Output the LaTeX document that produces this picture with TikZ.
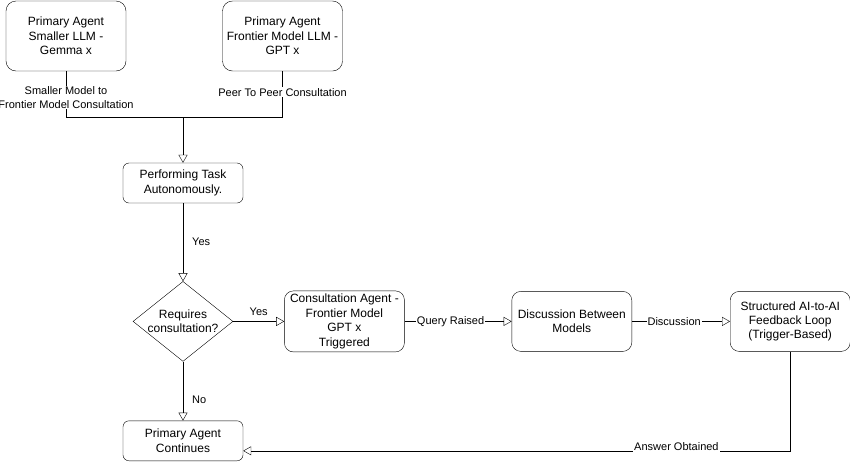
\documentclass[tikz,border=0pt]{standalone}
\usepackage{fontspec}
\setmainfont{Liberation Sans}
\usepackage{tikz}
\usetikzlibrary{shapes.geometric, positioning, arrows.meta}
\tikzset{
x=1pt, y=1pt, % one unit per pixel of the drawing
line width=1pt,
>={Triangle[open, length=8pt, width=9pt]}, % open arrow heads
agent/.style={draw, rounded corners=10pt, align=center, minimum width=120pt, minimum height=70pt, font=\fontsize{12}{14.4}\selectfont},
task/.style={draw, rounded corners=6pt, align=center, minimum width=120pt, minimum height=40pt, font=\fontsize{12}{14.4}\selectfont},
stage/.style={draw, rounded corners=9pt, align=center, minimum width=120pt, minimum height=60pt, font=\fontsize{12}{14.4}\selectfont},
decision/.style={draw, diamond, inner sep=0pt, minimum width=100pt, minimum height=80pt}, % text is set as a label
edgetext/.style={font=\fontsize{11}{13.2}\selectfont, align=center, inner sep=2pt},
}

\begin{document}
\begin{tikzpicture}
        \useasboundingbox (0,0) rectangle (850,-461);

        \node[agent] (small) at (66,-36) {Primary Agent\\Smaller LLM -\\Gemma x};
        \node[agent] (frontier) at (282.5,-36) {Primary Agent\\Frontier Model LLM -\\GPT x};
        \node[task] (work) at (183,-183) {Performing Task\\Autonomously.};
        \node[decision, below=78pt of work, label={[font=\fontsize{12}{14.4}\selectfont, align=center]center:Requires\\consultation?}] (decide) {};
        \node[stage, right=51pt of decide] (consult) {Consultation Agent -\\Frontier Model\\GPT x\\Triggered};
        \node[stage, right=107pt of consult] (discuss) {Discussion Between\\Models};
        \node[stage, right=98pt of discuss] (feedback) {Structured AI-to-AI\\Feedback Loop\\(Trigger-Based)};
        \node[task, below=59pt of decide] (carry) {Primary Agent\\Continues};
        \coordinate (join) at (183,-117);

        \draw (small.south) |- node[edgetext, pos=0.288, fill=white, inner sep=1pt]{Smaller Model to\\Frontier Model Consultation} (join);
        \draw (frontier.south) |- node[edgetext, pos=0.228, fill=white, inner sep=1pt]{Peer To Peer Consultation} (join);
        \draw[->] (join) -- (work);
        \draw[->] (work) -- node[edgetext, right=7pt]{Yes} (decide);
        \draw[->] (decide) -- node[edgetext, above, yshift=4pt]{Yes} (consult);
        \draw[->] (consult) -- node[edgetext, pos=0.43, fill=white, inner sep=1pt]{Query Raised} (discuss);
        \draw[->] (discuss) -- node[edgetext, pos=0.43, fill=white, inner sep=1pt]{Discussion} (feedback);
        \draw[->] (decide) -- node[edgetext, pos=0.65, right=7pt]{No} (carry);
        \draw[->] (feedback.south) |- node[edgetext, pos=0.604, anchor=base, fill=white, inner sep=1pt]{Answer Obtained} ([yshift=-10pt]carry.east);
      \end{tikzpicture}
\end{document}
